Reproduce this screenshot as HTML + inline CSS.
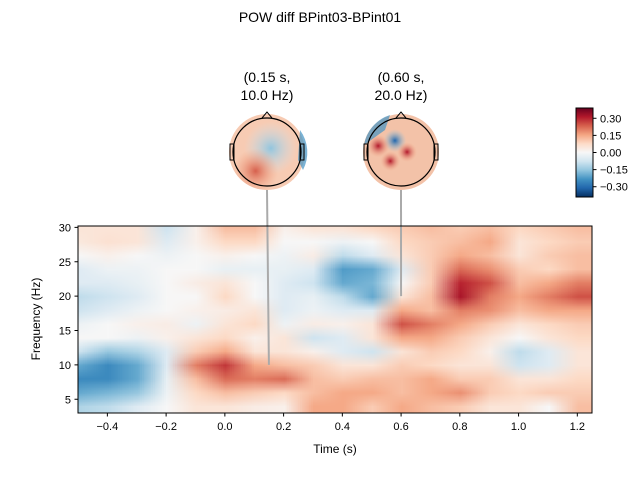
<!DOCTYPE html>
<html><head><meta charset="utf-8"><style>
body{margin:0;background:#fff;font-family:"Liberation Sans","DejaVu Sans",sans-serif;}
#root{position:relative;width:640px;height:480px;overflow:hidden;}
.t{position:absolute;font-size:12px;color:#000;white-space:nowrap;}
</style></head><body>
<div id="root">
<div class="t" style="left:0;width:640px;text-align:center;top:9px;font-size:14px">POW diff BPint03-BPint01</div>
<div class="t" style="left:217px;width:100px;text-align:center;top:68px;font-size:14px;line-height:18px">(0.15 s,<br>10.0 Hz)</div>
<div class="t" style="left:351px;width:100px;text-align:center;top:68px;font-size:14px;line-height:18px">(0.60 s,<br>20.0 Hz)</div>
<canvas id="hm" width="18" height="14" style="position:absolute;"></canvas>
<svg id="ov" width="640" height="480" style="position:absolute;left:0;top:0">
<defs>
<radialGradient id="g1a" cx="0.35" cy="0.75" r="0.3"><stop offset="0" stop-color="#d6604d"/><stop offset="1" stop-color="#f4a582" stop-opacity="0"/></radialGradient>
<radialGradient id="g1b" cx="0.55" cy="0.45" r="0.35"><stop offset="0" stop-color="#92c5de"/><stop offset="1" stop-color="#d1e5f0" stop-opacity="0"/></radialGradient>
<radialGradient id="g2a" cx="0.2" cy="0.42" r="0.15"><stop offset="0" stop-color="#b2182b"/><stop offset="1" stop-color="#f4a582" stop-opacity="0"/></radialGradient>
<radialGradient id="g2b" cx="0.58" cy="0.5" r="0.13"><stop offset="0" stop-color="#b2182b"/><stop offset="1" stop-color="#f4a582" stop-opacity="0"/></radialGradient>
<radialGradient id="g2c" cx="0.36" cy="0.62" r="0.13"><stop offset="0" stop-color="#b2182b"/><stop offset="1" stop-color="#f4a582" stop-opacity="0"/></radialGradient>
<radialGradient id="g2d" cx="0.42" cy="0.35" r="0.15"><stop offset="0" stop-color="#2166ac"/><stop offset="1" stop-color="#92c5de" stop-opacity="0"/></radialGradient>
<linearGradient id="cb" x1="0" y1="1" x2="0" y2="0">
<stop offset="0" stop-color="#053061"/><stop offset="0.1" stop-color="#2166ac"/><stop offset="0.2" stop-color="#4393c3"/><stop offset="0.3" stop-color="#92c5de"/><stop offset="0.4" stop-color="#d1e5f0"/><stop offset="0.5" stop-color="#f7f7f7"/><stop offset="0.6" stop-color="#fddbc7"/><stop offset="0.7" stop-color="#f4a582"/><stop offset="0.8" stop-color="#d6604d"/><stop offset="0.9" stop-color="#b2182b"/><stop offset="1" stop-color="#67001f"/></linearGradient>
</defs>
<g>
<circle cx="267" cy="152" r="38" fill="#f7cbb3"/>
<circle cx="267" cy="152" r="38" fill="url(#g1b)"/>
<circle cx="267" cy="152" r="38" fill="url(#g1a)"/>
<path d="M300 130 A38 38 0 0 1 303 170 L298 160 Z" fill="#4393c3" opacity="0.7"/>
<circle cx="267" cy="152" r="34" fill="none" stroke="#000" stroke-width="1.2"/>
<path d="M262 118 L267 112 L272 118" fill="none" stroke="#000"/>
<rect x="230" y="144" width="4" height="16" fill="none" stroke="#000"/><rect x="300" y="144" width="4" height="16" fill="none" stroke="#000"/>
</g>
<g>
<circle cx="401" cy="152" r="38" fill="#f3c2a8"/>
<circle cx="401" cy="152" r="38" fill="url(#g2d)"/>
<circle cx="401" cy="152" r="38" fill="url(#g2a)"/>
<circle cx="401" cy="152" r="38" fill="url(#g2b)"/>
<circle cx="401" cy="152" r="38" fill="url(#g2c)"/>
<path d="M364 145 A38 38 0 0 1 390 115 L385 130 Z" fill="#4393c3" opacity="0.7"/>
<circle cx="401" cy="152" r="34" fill="none" stroke="#000" stroke-width="1.2"/>
<path d="M396 118 L401 112 L406 118" fill="none" stroke="#000"/>
<rect x="364" y="144" width="4" height="16" fill="none" stroke="#000"/><rect x="434" y="144" width="4" height="16" fill="none" stroke="#000"/>
</g>
<g>
<rect x="576" y="108" width="17" height="89" fill="url(#cb)" stroke="#000" stroke-width="1"/>
</g>
<g id="cbt"></g>
<g id="lines"></g>
<rect x="78" y="226" width="514" height="187" fill="none" stroke="#000" stroke-width="1"/>
<g id="xt"></g>
<g id="yt"></g>
<text x="335" y="453" font-size="12" text-anchor="middle">Time (s)</text>
<text x="40" y="319" font-size="12" text-anchor="middle" transform="rotate(-90 40 319)">Frequency (Hz)</text>
</svg>
</div>
<script>
const times=[-0.5,-0.4,-0.3,-0.2,-0.1,0,0.1,0.2,0.3,0.4,0.5,0.6,0.7,0.8,0.9,1.0,1.1,1.2];
const freqs=[30,28,26,24,22,20,18,16,14,12,10,8,6,4];
const power=[
[0.05,0.05,0.05,-0.08,0.02,0.12,0.12,0.02,0.05,0.05,0.08,0.1,0.12,0.1,0.12,0.08,0.1,0.12],
[0.04,0.06,0.05,-0.05,0.02,0.08,0.08,0.0,0.0,-0.02,0.0,0.08,0.1,0.12,0.15,0.05,0.08,0.1],
[0.0,0.02,0.0,-0.02,0,0.02,0.0,-0.02,0.03,-0.1,-0.05,0.05,0.1,0.15,0.12,0.05,0.1,0.12],
[-0.05,-0.02,-0.02,0,0,-0.03,-0.03,-0.03,-0.05,-0.22,-0.2,-0.05,0.1,0.22,0.18,0.1,0.08,0.12],
[-0.05,-0.05,-0.03,0,0.03,0.05,0,-0.05,-0.08,-0.2,-0.18,0.0,0.1,0.3,0.25,0.12,0.15,0.2],
[-0.1,-0.08,-0.05,0,0,0.08,0,-0.05,-0.03,-0.1,-0.2,0.05,0.12,0.32,0.2,0.15,0.2,0.25],
[-0.08,-0.05,-0.02,0.0,0.02,0.03,0.05,-0.05,-0.02,-0.05,-0.05,0.15,0.12,0.2,0.18,0.12,0.15,0.15],
[-0.02,0,0.02,0.03,-0.02,0.05,0.08,-0.02,0.03,0.02,0.05,0.25,0.2,0.15,0.1,0.05,0.08,0.1],
[0.0,0.0,-0.02,0.02,0.05,0.08,0.02,0.05,-0.08,-0.05,0.05,0.15,0.15,0.1,0.05,0.0,0.05,0.08],
[-0.08,-0.15,-0.12,-0.05,0.1,0.15,0.05,0.05,0.02,-0.05,-0.08,0.05,0.1,0.08,0.02,-0.1,-0.05,0.05],
[-0.2,-0.25,-0.2,-0.05,0.2,0.28,0.15,0.12,0.1,0.05,0.05,0.1,0.08,0.05,0.05,-0.08,-0.05,0.05],
[-0.25,-0.25,-0.2,-0.03,0.12,0.22,0.2,0.22,0.12,0.1,0.12,0.12,0.15,0.1,0.1,0.05,0.05,0.08],
[-0.2,-0.18,-0.15,-0.02,0.08,0.12,0.1,0.08,0.12,0.15,0.15,0.12,0.15,0.18,0.1,0.08,0.1,0.1],
[-0.12,-0.1,-0.05,0,0.05,0.05,0.03,0.02,0.15,0.15,0.1,0.15,0.12,0.1,0.05,0.05,0.0,0.12]];
const xTicks=[-0.4,-0.2,0.0,0.2,0.4,0.6,0.8,1.0,1.2];
const yTicks=[5,10,15,20,25,30];
const cbTicks=[0.30,0.15,0.00,-0.15,-0.30];
const picks=[[0.15,10],[0.60,20]];
const VMAX=0.39;
const X=t=>78+(t+0.5)*514/1.75;
const Y=f=>413-(f-3)*187/27.2;
const CB=v=>152.5-v*44.5/VMAX;
const stops=[[5,48,97],[33,102,172],[67,147,195],[146,197,222],[209,229,240],[247,247,247],[253,219,199],[244,165,130],[214,96,77],[178,24,43],[103,0,31]];
function cmap(v){let p=(Math.max(-VMAX,Math.min(VMAX,v))/VMAX+1)/2*10;let i=Math.min(9,Math.floor(p)),f=p-i;return stops[i].map((c,k)=>Math.round(c+(stops[i+1][k]-c)*f));}
const cv=document.getElementById('hm');
const dt=times[1]-times[0], df=freqs[0]-freqs[1];
const hmL=X(times[0]-dt/2), hmR=X(times[times.length-1]+dt/2);
const hmT=Y(freqs[0]+df/2), hmB=Y(freqs[freqs.length-1]-df/2);
cv.style.left=hmL+'px';cv.style.top=hmT+'px';cv.style.width=(hmR-hmL)+'px';cv.style.height=(hmB-hmT)+'px';
cv.style.clipPath=`inset(${226-hmT}px ${hmR-592}px ${hmB-413}px ${78-hmL}px)`;
const ctx=cv.getContext('2d');const img=ctx.createImageData(times.length,freqs.length);
power.forEach((row,r)=>row.forEach((v,c)=>{const col=cmap(v);const o=(r*times.length+c)*4;img.data[o]=col[0];img.data[o+1]=col[1];img.data[o+2]=col[2];img.data[o+3]=255;}));
ctx.putImageData(img,0,0);
const NS='http://www.w3.org/2000/svg';
function el(tag,attrs,parent,txt){const e=document.createElementNS(NS,tag);for(const k in attrs)e.setAttribute(k,attrs[k]);if(txt!==undefined)e.textContent=txt;parent.appendChild(e);return e;}
const xt=document.getElementById('xt');
xTicks.forEach(t=>{const g=el('g',{},xt);


el('line',{x1:X(t),x2:X(t),y1:413,y2:416.5,stroke:'#000'},g);el('text',{x:X(t),y:430,'font-size':11,'text-anchor':'middle'},g,(t<0?'\u2212':'')+Math.abs(t).toFixed(1));});
const yt=document.getElementById('yt');
yTicks.forEach(f=>{const g=el('g',{},yt);


el('line',{x1:74.5,x2:78,y1:Y(f),y2:Y(f),stroke:'#000'},g);el('text',{x:71,y:Y(f)+4,'font-size':11,'text-anchor':'end'},g,String(f));});
const cbt=document.getElementById('cbt');
cbTicks.forEach(v=>{const g=el('g',{},cbt);


el('line',{x1:593,x2:596.5,y1:CB(v),y2:CB(v),stroke:'#000'},g);el('text',{x:600,y:CB(v)+4,'font-size':11},g,(v<0?'\u2212':'')+Math.abs(v).toFixed(2));});
const ln=document.getElementById('lines');
const heads=[267,401];
picks.forEach((p,i)=>{const l=el('line',{x1:heads[i],y1:190,x2:X(p[0]),y2:Y(p[1]),stroke:'#aaa','stroke-width':2},ln);

});
</script>
</body></html>
